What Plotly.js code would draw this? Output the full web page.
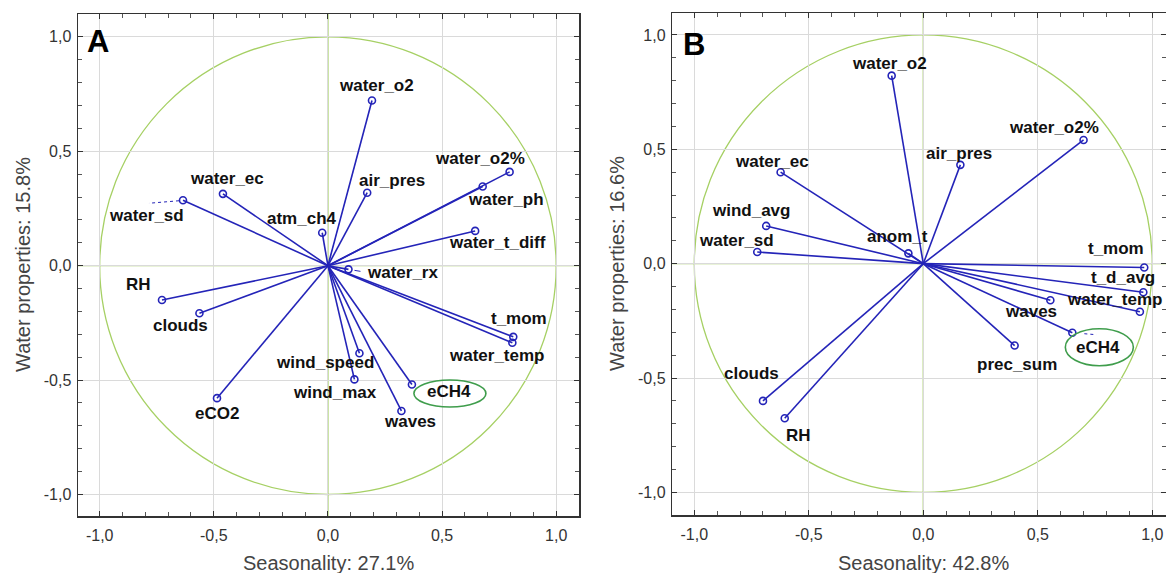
<!DOCTYPE html>
<html>
<head>
<meta charset="utf-8">
<script src="https://cdn.plot.ly/plotly-3.0.1.min.js"></script>
<style>html,body{margin:0;padding:0;background:#fff;}#chart{width:1166px;height:573px;}</style>
</head>
<body>
<div id="chart"></div>
<script>
// ---------- Panel A data ----------
const namesA = ['water_o2','water_o2%','water_ph','water_t_diff','air_pres','atm_ch4','water_ec','water_sd','RH','clouds','eCO2','wind_speed','wind_max','waves','eCH4','water_rx','t_mom','water_temp'];
const xA = [0.193, 0.796, 0.678, 0.645, 0.172, -0.025, -0.460, -0.635, -0.727, -0.563, -0.486, 0.138, 0.116, 0.322, 0.368, 0.090, 0.812, 0.808];
const yA = [0.722, 0.410, 0.346, 0.152, 0.319, 0.144, 0.314, 0.286, -0.150, -0.208, -0.579, -0.383, -0.497, -0.635, -0.519, -0.016, -0.311, -0.337];
// label offsets in pixels (dx right, dy down)
const labDxA = [5, -30, 23, 22, 25, -20, 4, -36, -23, -19, 0, -34, -19, 9, 37, 54, 6, -16];
const labDyA = [-15, -13, 13, 12, -12, -14, -15, 15, -16, 12, 15, 9, 13, 11, 7, 3, -18, 13];

// ---------- Panel B data ----------
const namesB = ['water_o2','air_pres','water_o2%','anom_t','t_mom','t_d_avg','water_temp','water_ec','wind_avg','water_sd','clouds','RH','waves','eCH4','prec_sum'];
const xB = [-0.138, 0.162, 0.700, -0.065, 0.965, 0.961, 0.946, -0.623, -0.686, -0.725, -0.700, -0.605, 0.555, 0.651, 0.399];
const yB = [0.822, 0.432, 0.541, 0.045, -0.017, -0.125, -0.210, 0.400, 0.165, 0.051, -0.600, -0.676, -0.160, -0.302, -0.358];
const labDxB = [-2, -1, -30, -11, -28, -20, -25, -9, -15, -21, -11, 14, -19, 26, 2];
const labDyB = [-12, -11, -12, -17, -19, -15, -12, -11, -15, -11, -27, 17, 11, 15, 19];

// axis labels
const tickVals = [-1, -0.5, 0, 0.5, 1];
const tickText = ['-1,0', '-0,5', '0,0', '0,5', '1,0'];
const xTitleA = 'Seasonality: 27.1%';
const yTitleA = 'Water properties: 15.8%';
const xTitleB = 'Seasonality: 42.8%';
const yTitleB = 'Water properties: 16.6%';

const W = 1166, H = 573;
const BLUE = '#2424b8';
const CIRCLE = '#a6d064';
const ELL = '#3f9d4c';

function vectorTraces(xs, ys, xa, ya) {
  const lx = [], ly = [];
  xs.forEach((v, i) => { lx.push(0, v, null); ly.push(0, ys[i], null); });
  return [
    {x: lx, y: ly, xaxis: xa, yaxis: ya, mode: 'lines', type: 'scatter',
     line: {color: BLUE, width: 1.6}, hoverinfo: 'skip'},
    {x: xs, y: ys, xaxis: xa, yaxis: ya, mode: 'markers', type: 'scatter',
     marker: {symbol: 'circle-open', size: 7, color: BLUE, line: {width: 1.6, color: BLUE}}}
  ];
}

const data = [].concat(vectorTraces(xA, yA, 'x', 'y'), vectorTraces(xB, yB, 'x2', 'y2'));

const labelFont = {family: 'Liberation Sans, Arial, sans-serif', size: 17, color: '#111', weight: 'bold'};
const annotations = [];
function addLabels(names, xs, ys, dx, dy, xr, yr) {
  names.forEach((n, i) => {
    annotations.push({x: xs[i], y: ys[i], xref: xr, yref: yr, text: n, showarrow: false,
      xshift: dx[i], yshift: -dy[i], font: labelFont, xanchor: 'center', yanchor: 'middle'});
  });
}
addLabels(namesA, xA, yA, labDxA, labDyA, 'x', 'y');
addLabels(namesB, xB, yB, labDxB, labDyB, 'x2', 'y2');

const titleFont = {family: 'Liberation Sans, Arial, sans-serif', size: 20, color: '#444'};
function paperAnn(text, px, py, font, angle) {
  annotations.push({xref: 'paper', yref: 'paper', x: px / W, y: 1 - py / H, text: text,
    showarrow: false, font: font, textangle: angle || 0, xanchor: 'center', yanchor: 'middle'});
}
paperAnn(xTitleA, 328, 563, titleFont);
paperAnn(xTitleB, 923, 563, titleFont);
paperAnn(yTitleA, 23, 265, titleFont, -90);
paperAnn(yTitleB, 617, 264, titleFont, -90);
const panelFont = {family: 'Liberation Sans, Arial, sans-serif', size: 31, color: '#000', weight: 'bold'};
paperAnn('A', 98, 42, panelFont);
paperAnn('B', 694, 44, panelFont);

// shapes
const shapes = [];
function crossAndCircle(xr, yr) {
  shapes.push({type: 'line', xref: xr, yref: yr + ' domain', x0: 0, x1: 0, y0: 0, y1: 1,
    line: {color: CIRCLE, width: 1.3}, layer: 'below'});
  shapes.push({type: 'line', xref: xr + ' domain', yref: yr, x0: 0, x1: 1, y0: 0, y1: 0,
    line: {color: CIRCLE, width: 1.3}, layer: 'below'});
  shapes.push({type: 'circle', xref: xr, yref: yr, x0: -1, y0: -1, x1: 1, y1: 1,
    line: {color: CIRCLE, width: 1.3}, layer: 'below'});
}
crossAndCircle('x', 'y');
crossAndCircle('x2', 'y2');
function ellipse(xr, yr, xv, yv, x0, x1, y0, y1) {
  shapes.push({type: 'circle', xref: xr, yref: yr, xsizemode: 'pixel', ysizemode: 'pixel',
    xanchor: xv, yanchor: yv, x0: x0, x1: x1, y0: y0, y1: y1, line: {color: ELL, width: 1.6}});
}
const iA = namesA.indexOf('eCH4'), iB = namesB.indexOf('eCH4');
ellipse('x', 'y', xA[iA], yA[iA], 2, 74, -22.5, 4.5);
ellipse('x2', 'y2', xB[iB], yB[iB], -7, 61, -33, 4);
function leader(xr, yr, xv, yv, x0, x1, y0, y1, dash) {
  shapes.push({type: 'line', xref: xr, yref: yr, xsizemode: 'pixel', ysizemode: 'pixel',
    xanchor: xv, yanchor: yv, x0: x0, x1: x1, y0: y0, y1: y1,
    line: {color: BLUE, width: 1, dash: dash}});
}
const iSd = namesA.indexOf('water_sd'), iRx = namesA.indexOf('water_rx');
leader('x', 'y', xA[iSd], yA[iSd], -4, -34, -0.5, -3, 'dot');
leader('x', 'y', xA[iRx], yA[iRx], 6, 12, -1, -2, 'solid');
leader('x2', 'y2', xB[iB], yB[iB], 12, 24, -1, -2, 'dot');

const tickFont = {family: 'Liberation Sans, Arial, sans-serif', size: 16, color: '#333'};
function axis(domain, range, anchor) {
  return {domain: domain, range: range, anchor: anchor, automargin: false,
    tickmode: 'array', tickvals: tickVals, ticktext: tickText, tickfont: tickFont,
    ticks: 'inside', ticklen: 5, tickwidth: 1, tickcolor: '#333',
    minor: {tickmode: 'linear', tick0: 0, dtick: 0.1, ticks: 'inside', ticklen: 4, tickwidth: 1, tickcolor: '#555', showgrid: false},
    showline: true, linecolor: '#333', linewidth: 1.5, mirror: 'ticks',
    showgrid: true, gridcolor: '#dadada', gridwidth: 1,
    zeroline: false,
    fixedrange: true};
}

const layout = {
  width: W, height: H,
  margin: {l: 0, r: 0, t: 0, b: 0, pad: 0},
  paper_bgcolor: '#fff', plot_bgcolor: '#fff',
  showlegend: false,
  separators: ', ',
  xaxis: Object.assign(axis([78 / W, 579 / W], [-1.095, 1.10], 'y'), {ticklabelstandoff: 4}),
  yaxis: Object.assign(axis([1 - 516 / H, 1 - 14 / H], [-1.094, 1.10], 'x'), {ticklabelstandoff: 2}),
  xaxis2: Object.assign(axis([672.3 / W, 1], [-1.096, 1.06], 'y2'), {ticklabelstandoff: 4}),
  yaxis2: Object.assign(axis([1 - 515 / H, 1 - 13 / H], [-1.099, 1.096], 'x2'), {ticklabelstandoff: 2}),
  annotations: annotations,
  shapes: shapes
};

Plotly.newPlot('chart', data, layout, {staticPlot: true, displayModeBar: false});
</script>
</body>
</html>
